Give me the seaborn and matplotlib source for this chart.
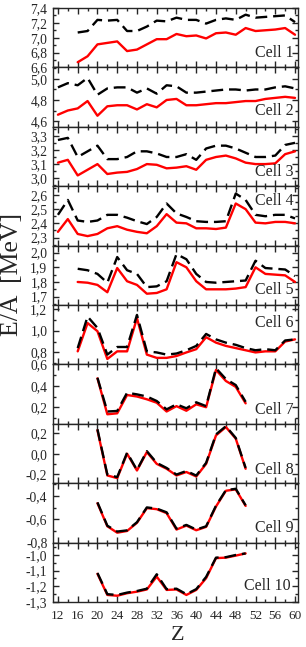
#E/A vs Z, 10 cells stacked
import numpy as np
import pandas as pd
import seaborn as sns
import matplotlib.pyplot as plt
from matplotlib.ticker import MultipleLocator, FuncFormatter

# Z grids
z_all = list(range(12, 61, 2))   # cells 2-4
z_16 = list(range(16, 61, 2))    # cells 1, 5, 6
z_20 = list(range(20, 51, 2))    # cells 7-10

red1 = [6.67, 6.75, 6.91, 6.93, 6.95, 6.82, 6.84, 6.91, 6.98, 6.98, 7.05, 7.02,
        7.03, 6.99, 7.06, 7.07, 7.04, 7.13, 7.09, 7.10, 7.11, 7.13, 7.04]
black1 = [7.07, 7.09, 7.24, 7.23, 7.24, 7.09, 7.09, 7.15, 7.23, 7.22, 7.27, 7.24,
          7.24, 7.19, 7.24, 7.26, 7.24, 7.31, 7.27, 7.28, 7.29, 7.30, 7.21]

red2 = [4.66, 4.70, 4.72, 4.79, 4.65, 4.74, 4.75, 4.75, 4.71, 4.76, 4.73, 4.80, 4.81,
        4.75, 4.75, 4.76, 4.77, 4.77, 4.78, 4.79, 4.79, 4.81, 4.82, 4.83, 4.82]
black2 = [4.92, 4.96, 4.94, 5.01, 4.85, 4.91, 4.92, 4.92, 4.87, 4.91, 4.86, 4.94, 4.93,
          4.87, 4.87, 4.88, 4.89, 4.90, 4.90, 4.89, 4.90, 4.90, 4.92, 4.93, 4.91]

red3 = [3.11, 3.13, 3.02, 3.06, 3.10, 3.03, 3.04, 3.045, 3.065, 3.10, 3.095, 3.07, 3.075,
        3.085, 3.06, 3.13, 3.15, 3.16, 3.14, 3.11, 3.10, 3.10, 3.105, 3.17, 3.19]
black3 = [3.27, 3.285, 3.15, 3.19, 3.23, 3.135, 3.135, 3.15, 3.19, 3.19, 3.175, 3.15, 3.15,
          3.17, 3.13, 3.21, 3.23, 3.23, 3.21, 3.18, 3.15, 3.15, 3.16, 3.235, 3.25]

red4 = [2.34, 2.43, 2.325, 2.31, 2.325, 2.365, 2.38, 2.355, 2.34, 2.33, 2.38, 2.465, 2.405,
        2.40, 2.365, 2.365, 2.36, 2.37, 2.54, 2.50, 2.405, 2.40, 2.41, 2.41, 2.40]
black4 = [2.46, 2.565, 2.42, 2.41, 2.42, 2.46, 2.46, 2.44, 2.415, 2.395, 2.445, 2.54, 2.47,
          2.445, 2.415, 2.41, 2.41, 2.415, 2.61, 2.565, 2.46, 2.45, 2.46, 2.46, 2.435]

red5 = [1.80, 1.795, 1.78, 1.73, 1.895, 1.805, 1.78, 1.72, 1.725, 1.75, 1.935, 1.90,
        1.805, 1.75, 1.75, 1.75, 1.755, 1.765, 1.90, 1.855, 1.85, 1.845, 1.80]
black5 = [1.89, 1.88, 1.855, 1.795, 1.97, 1.88, 1.855, 1.765, 1.77, 1.805, 1.99, 1.955,
          1.855, 1.80, 1.795, 1.80, 1.805, 1.81, 1.945, 1.895, 1.89, 1.885, 1.84]

red6 = [0.81, 1.07, 0.995, 0.74, 0.81, 0.81, 1.115, 0.78, 0.75, 0.75, 0.767, 0.80,
        0.83, 0.94, 0.89, 0.86, 0.84, 0.82, 0.80, 0.81, 0.81, 0.90, 0.92]
black6 = [0.84, 1.13, 1.025, 0.78, 0.85, 0.85, 1.145, 0.81, 0.80, 0.78, 0.79, 0.82,
          0.86, 0.97, 0.92, 0.89, 0.87, 0.84, 0.82, 0.83, 0.82, 0.91, 0.92]

red7 = [0.47, 0.134, 0.143, 0.314, 0.30, 0.274, 0.242, 0.16, 0.21, 0.167, 0.227, 0.20,
        0.548, 0.445, 0.39, 0.236]
black7 = [0.475, 0.16, 0.165, 0.335, 0.32, 0.30, 0.258, 0.18, 0.227, 0.19, 0.246, 0.21,
          0.564, 0.463, 0.407, 0.25]

red8 = [0.23, -0.214, -0.24, 0.0, -0.165, 0.016, -0.10, -0.148, -0.214, -0.18, -0.224,
        -0.10, 0.18, 0.262, 0.148, -0.148]
black8 = [0.24, -0.205, -0.23, 0.01, -0.16, 0.025, -0.09, -0.14, -0.205, -0.17, -0.215,
          -0.09, 0.19, 0.27, 0.155, -0.14]

red9 = [-0.462, -0.66, -0.715, -0.70, -0.63, -0.504, -0.513, -0.547, -0.688, -0.654,
        -0.694, -0.665, -0.49, -0.355, -0.343, -0.485]
black9 = [-0.455, -0.655, -0.705, -0.695, -0.625, -0.498, -0.508, -0.54, -0.68, -0.648,
          -0.688, -0.66, -0.483, -0.35, -0.338, -0.48]

red10 = [-1.12, -1.255, -1.26, -1.244, -1.234, -1.22, -1.138, -1.223, -1.22, -1.255,
         -1.223, -1.148, -1.02, -1.017, -1.004, -0.99]
black10 = [-1.115, -1.25, -1.255, -1.24, -1.23, -1.215, -1.123, -1.218, -1.215, -1.25,
           -1.218, -1.14, -1.017, -1.014, -1.0, -0.99]

cells = ["Cell 1", "Cell 2", "Cell 3", "Cell 4", "Cell 5",
         "Cell 6", "Cell 7", "Cell 8", "Cell 9", "Cell 10"]
z_per_cell = [z_16, z_all, z_all, z_all, z_16, z_16, z_20, z_20, z_20, z_20]
red_all = [red1, red2, red3, red4, red5, red6, red7, red8, red9, red10]
black_all = [black1, black2, black3, black4, black5, black6, black7, black8, black9, black10]

# long table
rows = []
for c, zs, r, b in zip(cells, z_per_cell, red_all, black_all):
    for z, v in zip(zs, r):
        rows.append((c, "red", z, v))
    for z, v in zip(zs, b):
        rows.append((c, "black", z, v))
df = pd.DataFrame(rows, columns=["cell", "model", "Z", "E"])

# axis ranges / ticks per panel
ylims = [(6.6, 7.4), (4.545, 5.11), (2.944, 3.363), (2.243, 2.662), (1.643, 2.048),
         (0.69, 1.236), (0.045, 0.6), (-0.29, 0.294), (-0.8, -0.29), (-1.3, -0.921)]
major = [0.2, 0.2, 0.1, 0.1, 0.1, 0.2, 0.2, 0.2, 0.2, 0.1]
label_y = [0.24, 0.27, 0.245, 0.75, 0.255, 0.69, 0.23, 0.22, 0.24, 0.27]

sns.set_style("ticks")
plt.rcParams["font.family"] = ["Liberation Serif", "DejaVu Serif"]


def comma(v, pos):
    s = f"{v:.1f}".replace(".", ",")
    if s == "-0,0":
        s = "0,0"
    return s


fig, axes = plt.subplots(10, 1, sharex=True, figsize=(3.06, 6.47), dpi=100)
fig.subplots_adjust(left=53 / 306, right=297.5 / 306, top=1 - 8 / 647,
                    bottom=1 - 602 / 647, hspace=0)

for i, ax in enumerate(axes):
    sub = df[df["cell"] == cells[i]]
    sns.lineplot(data=sub, x="Z", y="E", hue="model", style="model",
                 hue_order=["red", "black"], style_order=["red", "black"],
                 palette={"red": "#ff0000", "black": "black"},
                 dashes={"red": "", "black": (5, 2.5)},
                 estimator=None, sort=False, legend=False, lw=1.7, ax=ax)
    ax.set_ylim(*ylims[i])
    ax.set_xlim(11, 60.5)
    ax.yaxis.set_major_locator(MultipleLocator(major[i]))
    ax.yaxis.set_minor_locator(MultipleLocator(major[i] / 2))
    ax.yaxis.set_major_formatter(FuncFormatter(comma))
    ax.xaxis.set_major_locator(MultipleLocator(4))
    ax.xaxis.set_minor_locator(MultipleLocator(2))
    ax.tick_params(which="both", direction="in", top=True, right=True, width=1,
                   labelsize=9.8, pad=4)
    ax.tick_params(which="major", length=4.5)
    ax.tick_params(which="minor", length=2.5)
    ax.tick_params(axis="x", labelsize=9.5, pad=6)
    for sp in ax.spines.values():
        sp.set_linewidth(1.0)
    ax.set_xlabel("")
    ax.set_ylabel("")
    x_right = 0.972 if i == 9 else 0.985
    ax.text(x_right, label_y[i], cells[i], transform=ax.transAxes,
            ha="right", va="center", fontsize=11.5)

fig.text(0.038, 1 - 274 / 647, "E/A  [MeV]", rotation=90, ha="center", va="center",
         fontsize=18.5)
fig.text(178 / 306, 1 - 636 / 647, "Z", ha="center", va="center", fontsize=16)

fig.savefig("out.png", dpi=100)
